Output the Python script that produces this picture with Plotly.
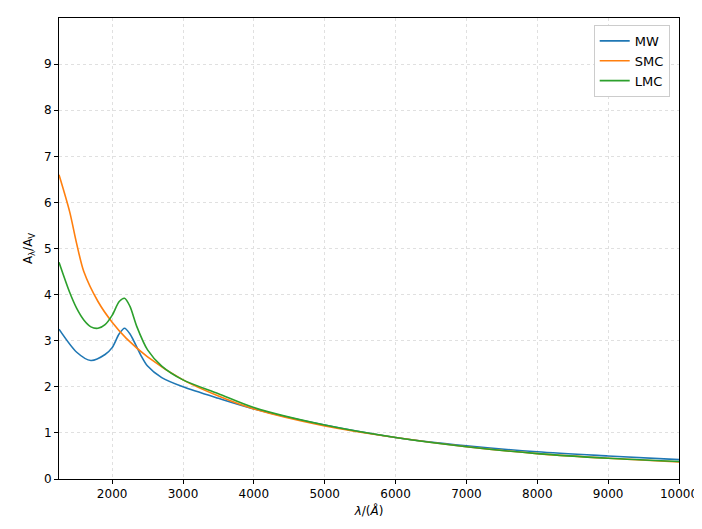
import plotly.graph_objects as go

wl_mw = [1250, 1500, 1700, 1900, 2000, 2100, 2175, 2250, 2400, 2500, 2700, 3000, 3500, 4000, 5000, 6000, 7000, 8000, 9000, 10000]
a_mw = [3.25, 2.75, 2.57, 2.7, 2.85, 3.15, 3.27, 3.15, 2.7, 2.45, 2.2, 2.0, 1.75, 1.52, 1.17, 0.9, 0.72, 0.59, 0.5, 0.42]

wl_smc = [1250, 1400, 1500, 1600, 1800, 2000, 2200, 2500, 3000, 3500, 4000, 5000, 6000, 7000, 8000, 9000, 10000]
a_smc = [6.6, 5.8, 5.1, 4.5, 3.85, 3.4, 3.05, 2.65, 2.15, 1.8, 1.52, 1.15, 0.9, 0.7, 0.55, 0.45, 0.37]

wl_lmc = [1250, 1400, 1500, 1600, 1700, 1800, 1900, 2000, 2100, 2175, 2250, 2350, 2500, 2700, 3000, 3500, 4000, 5000, 6000, 7000, 8000, 9000, 10000]
a_lmc = [4.7, 4.05, 3.7, 3.45, 3.3, 3.27, 3.35, 3.55, 3.85, 3.92, 3.75, 3.3, 2.8, 2.45, 2.15, 1.85, 1.55, 1.17, 0.9, 0.7, 0.55, 0.45, 0.38]

x_ticks = list(range(2000, 10001, 1000))
y_ticks = list(range(0, 10))

fig = go.Figure()
for name, x, y, c in [("MW", wl_mw, a_mw, "#1f77b4"),
                      ("SMC", wl_smc, a_smc, "#ff7f0e"),
                      ("LMC", wl_lmc, a_lmc, "#2ca02c")]:
    fig.add_trace(go.Scatter(x=x, y=y, name=name, mode="lines",
                             line=dict(color=c, width=1.6, shape="spline", smoothing=0.8)))

axis = dict(showline=True, linecolor="black", mirror=True, ticks="outside",
            tickcolor="black", ticklen=4, showgrid=True, gridcolor="#e0e0e0",
            griddash="dot", gridwidth=0.8, zeroline=False, automargin=False,
            tickfont=dict(size=12, color="black"))
fig.update_layout(
    width=702, height=529,
    margin=dict(l=51, r=31, t=10, b=58),
    plot_bgcolor="white", paper_bgcolor="white",
    font=dict(family="DejaVu Sans", color="black", size=12),
    xaxis=dict(axis, range=[1250, 10000], tickvals=x_ticks, ticktext=[str(v) for v in x_ticks],
               title=dict(text="<i>λ</i>/(<i>Å</i>)", standoff=6, font=dict(size=12))),
    yaxis=dict(axis, range=[0, 10], tickvals=y_ticks, ticktext=[str(v) for v in y_ticks],
               title=dict(text="A<sub>λ</sub>/A<sub>V</sub>", standoff=8, font=dict(size=12))),
    legend=dict(x=0.985, y=0.985, xanchor="right", yanchor="top",
                bordercolor="#cccccc", borderwidth=1, bgcolor="white",
                font=dict(size=13)),
)
fig.write_html("out.html")
